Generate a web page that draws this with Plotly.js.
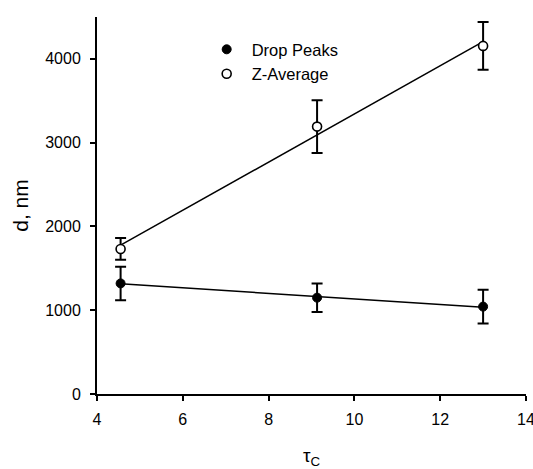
<!DOCTYPE html>
<html>
<head>
<meta charset="utf-8">
<script src="https://cdn.plot.ly/plotly-3.0.1.min.js"></script>
<style>html,body{margin:0;padding:0;background:#fff;}#chart{width:533px;height:469px;}</style>
</head>
<body>
<div id="chart"></div>
<script>
// Data
const tauC = [4.55, 9.13, 13.0];
const dropPeaks = [1320, 1150, 1043];
const dropPeaksErr = [200, 170, 200];
const zAverage = [1731, 3192, 4155];
const zAverageErr = [130, 315, 285];
// Fitted lines (at the end points)
const fitX = [4.55, 13.0];
const dropFit = [1316, 1036];
const zFit = [1776, 4205];
const seriesNames = ['Drop Peaks', 'Z-Average'];
const xTicks = [4, 6, 8, 10, 12, 14];
const yTicks = [0, 1000, 2000, 3000, 4000];

const fam = 'Liberation Sans, Arial, sans-serif';
const tickFont = {family: fam, size: 16, color: '#000'};
const legFont = {family: fam, size: 16.5, color: '#000'};

const traces = [
  {x: fitX, y: dropFit, mode: 'lines', line: {color: '#000', width: 1.5}, showlegend: false, hoverinfo: 'skip'},
  {x: fitX, y: zFit, mode: 'lines', line: {color: '#000', width: 1.5}, showlegend: false, hoverinfo: 'skip'},
  {x: tauC, y: dropPeaks, name: seriesNames[0], mode: 'markers', legendgroup: 'a',
   marker: {symbol: 'circle', size: 9, color: '#000', line: {color: '#000', width: 1}},
   error_y: {type: 'data', array: dropPeaksErr, visible: true, color: '#000', thickness: 2, width: 5.5}},
  {x: tauC, y: zAverage, name: seriesNames[1], mode: 'markers', legendgroup: 'b',
   marker: {symbol: 'circle', size: 9, color: '#fff', line: {color: '#000', width: 1.6}},
   error_y: {type: 'data', array: zAverageErr, visible: true, color: '#000', thickness: 2, width: 5.5}}
];

const layout = {
  width: 533, height: 469,
  margin: {l: 97, r: 7, t: 17, b: 75},
  paper_bgcolor: '#fff', plot_bgcolor: '#fff',
  font: tickFont,
  showlegend: true,
  legend: {x: 0.244, y: 0.96, xanchor: 'left', yanchor: 'top', bgcolor: 'rgba(0,0,0,0)',
           font: legFont, traceorder: 'grouped', tracegroupgap: 0, itemwidth: 40},
  xaxis: {
    range: [4, 14], tickvals: xTicks, ticktext: xTicks.map(String),
    showline: true, linecolor: '#000', linewidth: 2, showgrid: false, zeroline: false,
    ticks: 'outside', ticklen: 5, tickwidth: 2, tickcolor: '#000', tickfont: tickFont,
    ticklabelstandoff: 5, ticklabeloverflow: 'allow',
    title: {text: 'τ<sub>C</sub>', font: {family: fam, size: 19, color: '#000'}, standoff: 33}
  },
  yaxis: {
    range: [0, 4500], tickvals: yTicks, ticktext: yTicks.map(String),
    showline: true, linecolor: '#000', linewidth: 2, showgrid: false, zeroline: false,
    ticks: 'outside', ticklen: 5, tickwidth: 2, tickcolor: '#000', tickfont: tickFont,
    ticklabelstandoff: 6,
    title: {text: 'd, nm', font: {family: fam, size: 21, color: '#000'}, standoff: 11}
  }
};

Plotly.newPlot('chart', traces, layout, {displayModeBar: false, staticPlot: true});
</script>
</body>
</html>
